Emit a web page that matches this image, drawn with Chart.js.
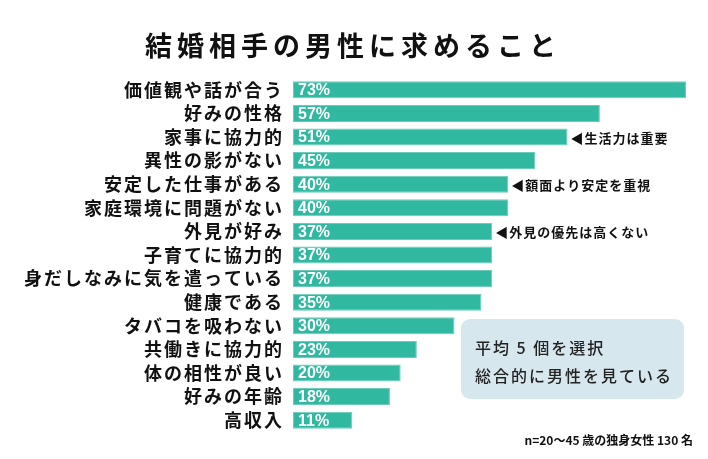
<!DOCTYPE html>
<html><head><meta charset="utf-8">
<script src="https://cdn.jsdelivr.net/npm/chart.js@4/dist/chart.umd.min.js"></script>
<style>html,body{margin:0;padding:0;background:#fff;}#wrap{width:708px;height:459px;position:relative;}</style>
</head><body><div id="wrap"><canvas id="c" width="708" height="459"></canvas></div>
<script>
const categories = ['価値観や話が合う','好みの性格','家事に協力的','異性の影がない','安定した仕事がある','家庭環境に問題がない','外見が好み','子育てに協力的','身だしなみに気を遣っている','健康である','タバコを吸わない','共働きに協力的','体の相性が良い','好みの年齢','高収入'];
const values = [73,57,51,45,40,40,37,37,37,35,30,23,20,18,11];
const notes = {2:'◀生活力は重要', 4:'◀額面より安定を重視', 6:'◀外見の優先は高くない'};
const titleText = '結婚相手の男性に求めること';
const boxLines = ['平均 5 個を選択','総合的に男性を見ている'];
const footnote = 'n=20〜45 歳の独身女性 130 名';

const JP = '"Noto Sans CJK JP", "Noto Sans", sans-serif';

const deco = {
  id:'deco',
  beforeDraw(chart){
    const ctx = chart.ctx;
    ctx.save();
    ctx.fillStyle='#fff'; ctx.fillRect(0,0,chart.width,chart.height);
    ctx.restore();
    ctx.letterSpacing = '2px';
  },
  beforeDatasetsDraw(chart){ chart.ctx.letterSpacing = '0px'; },
  afterDatasetsDraw(chart){
    const ctx = chart.ctx;
    const meta = chart.getDatasetMeta(0);
    ctx.save();
    // value labels
    ctx.fillStyle='#fff';
    ctx.font='bold 16px "Liberation Sans Narrow", "Liberation Sans", sans-serif';
    ctx.textBaseline='middle'; ctx.textAlign='left';
    meta.data.forEach((bar,i)=>{
      ctx.fillText(values[i]+'%', bar.base+5, bar.y+1);
    });
    // notes
    ctx.fillStyle='#111';
    ctx.font='bold 13px '+JP;
    ctx.letterSpacing='1px';
    Object.keys(notes).forEach(k=>{
      const bar = meta.data[+k];
      ctx.fillText(notes[k], bar.x+3, bar.y+1);
    });
    // title
    ctx.letterSpacing='5px';
    ctx.font='bold 27px '+JP;
    ctx.fillStyle='#111';
    ctx.textAlign='left';
    ctx.fillText(titleText, 145, 46);
    // callout box
    ctx.letterSpacing='0px';
    const bx=461, by=319, bw=223, bh=80, r=9;
    ctx.fillStyle='#d7e7ee';
    ctx.beginPath();
    ctx.roundRect(bx,by,bw,bh,r);
    ctx.fill();
    ctx.fillStyle='#222';
    ctx.font='500 16px '+JP;
    ctx.letterSpacing='2px';
    ctx.fillText(boxLines[0], 475, 348);
    ctx.fillText(boxLines[1], 475, 376);
    // footnote
    ctx.letterSpacing='0px';
    ctx.font='bold 12px '+JP;
    ctx.textAlign='right';
    ctx.fillStyle='#111';
    ctx.fillText(footnote, 693, 440);
    ctx.restore();
  }
};

new Chart(document.getElementById('c'), {
  type:'bar',
  data:{ labels:categories, datasets:[{
    data:values,
    backgroundColor:'#30b8a0',
    borderColor:'#6ccbb9',
    borderWidth:1,
    borderSkipped:false,
    barPercentage:0.72,
    categoryPercentage:1.0
  }]},
  options:{
    indexAxis:'y',
    responsive:false,
    animation:false,
    devicePixelRatio:1,
    layout:{padding:{left:0,right:22,top:78,bottom:27}},
    plugins:{legend:{display:false},tooltip:{enabled:false},title:{display:false}},
    scales:{
      x:{display:false,min:0,max:73},
      y:{
        grid:{display:false,drawTicks:false},
        border:{display:false},
        afterFit(scale){ scale.width = 293; },
        ticks:{color:'#111',padding:9,autoSkip:false,font:{family:JP,size:18,weight:'bold'}}
      }
    }
  },
  plugins:[deco]
});
</script></body></html>
